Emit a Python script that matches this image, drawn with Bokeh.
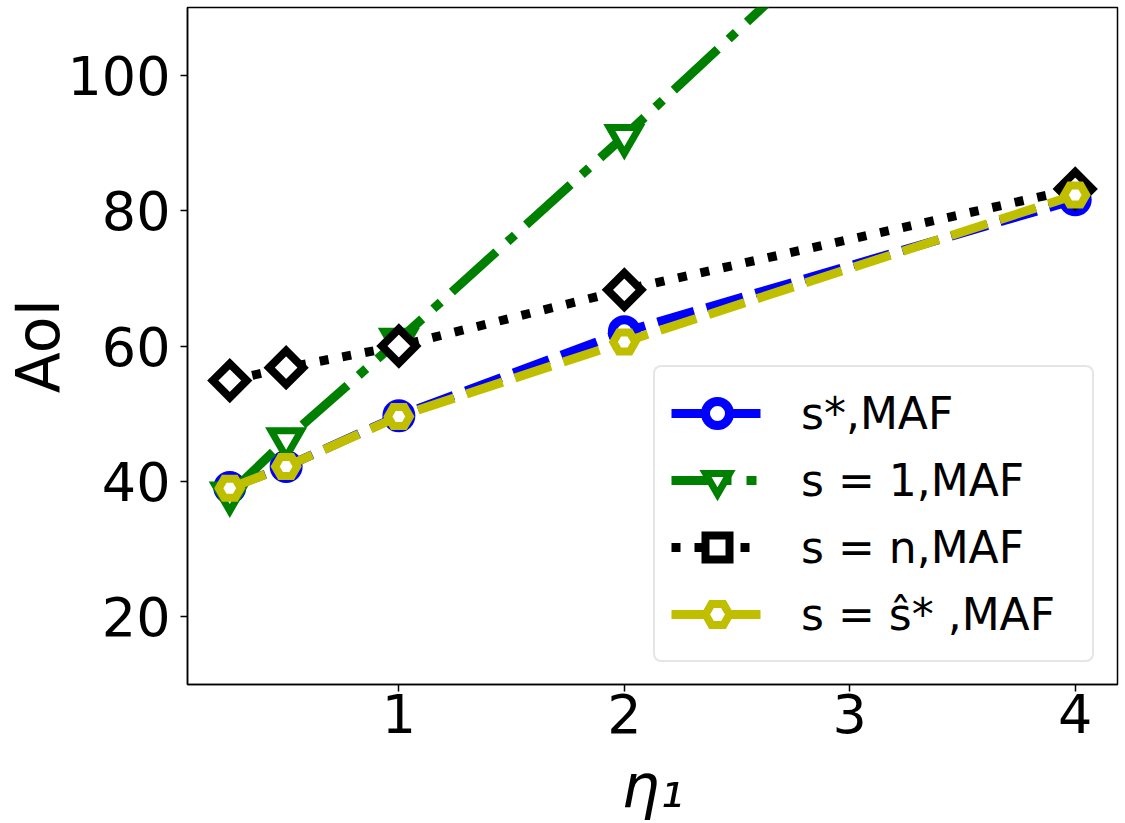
from bokeh.plotting import figure
from bokeh.models import Range1d, FixedTicker, Legend, LegendItem
from bokeh.embed import file_html
from bokeh.resources import INLINE
import math

# Age of information versus eta_1 for four update policies
eta = [0.25, 0.5, 1, 2, 4]
aoi_s_opt = [39.1, 42.2, 49.7, 62.1, 81.6]
aoi_s_one = [38.2, 46.2, 60.9, 91.0, 153.0]
aoi_s_n = [54.9, 56.8, 60.0, 68.3, 83.2]
aoi_s_hat = [39.0, 42.2, 49.6, 60.6, 82.3]

x_ticks = [1, 2, 3, 4]
y_ticks = [20, 40, 60, 80, 100]

FONT = "DejaVu Sans"

p = figure(width=1125, height=823, output_backend="svg", toolbar_location=None,
           x_range=Range1d(0.0625, 4.1875), y_range=Range1d(10, 110),
           min_border_left=187, min_border_right=8, min_border_top=7,
           min_border_bottom=137)

p.xgrid.visible = False
p.ygrid.visible = False
p.outline_line_color = "black"
p.outline_line_width = 1.5

p.xaxis.ticker = FixedTicker(ticks=x_ticks)
p.yaxis.ticker = FixedTicker(ticks=y_ticks)
for ax in (p.xaxis, p.yaxis):
    ax.major_label_text_font = FONT
    ax.major_label_text_font_size = "54px"
    ax.major_label_text_color = "black"
    ax.axis_label_text_font = FONT
    ax.axis_label_text_font_size = "60px"
    ax.axis_label_text_color = "black"
    ax.major_tick_out = 7
    ax.major_tick_in = 0
    ax.major_tick_line_width = 1.5
    ax.major_tick_line_color = "black"
    ax.minor_tick_line_color = None
    ax.axis_line_color = "black"
    ax.axis_line_width = 1.5

p.xaxis.axis_label = "η₁"
p.xaxis.axis_label_text_font_style = "italic"
p.xaxis.major_label_standoff = 2
p.xaxis.axis_label_standoff = 15
p.yaxis.axis_label = "AoI"
p.yaxis.axis_label_text_font_style = "normal"
p.yaxis.major_label_standoff = 10
p.yaxis.axis_label_standoff = -9

LW = 9

l1 = p.line(eta, aoi_s_opt, line_color="#0000ff", line_width=LW, line_dash="38 13")
m1 = p.scatter(eta, aoi_s_opt, marker="circle", size=24, fill_color="white",
               line_color="#0000ff", line_width=9)

l2 = p.line(eta, aoi_s_one, line_color="#008000", line_width=LW, line_dash="60 15 10 15")
m2 = p.scatter(eta, aoi_s_one, marker="inverted_triangle", size=30, fill_color="white",
               line_color="#008000", line_width=7, line_join="miter")

l3 = p.line(eta, aoi_s_n, line_color="black", line_width=LW, line_dash="9 14")
m3 = p.scatter(eta, aoi_s_n, marker="square", angle=math.pi / 4, size=24,
               fill_color="white", line_color="black", line_width=8, line_join="miter")

l4 = p.line(eta, aoi_s_hat, line_color="#bfbf00", line_width=LW, line_dash="38 13")
m4 = p.scatter(eta, aoi_s_hat, marker="hex", size=22, fill_color="white",
               line_color="#bfbf00", line_width=8, line_join="miter")

legend = Legend(
    items=[
        LegendItem(label="s*,MAF", renderers=[l1, m1]),
        LegendItem(label="s = 1,MAF", renderers=[l2, m2]),
        LegendItem(label="s = n,MAF", renderers=[l3, m3]),
        LegendItem(label="s = ŝ* ,MAF", renderers=[l4, m4]),
    ],
    location=(466, 22),
    glyph_width=92, glyph_height=60, label_standoff=38,
    padding=16, spacing=7, label_width=275,
    label_text_font=FONT, label_text_font_size="44px", label_text_color="black",
    border_line_color="#cccccc", border_line_width=2,
    background_fill_color="white", background_fill_alpha=0.8,
)
if "border_radius" in legend.properties():
    legend.border_radius = 8
p.add_layout(legend)

open("out.html", "w").write(file_html(p, INLINE))
